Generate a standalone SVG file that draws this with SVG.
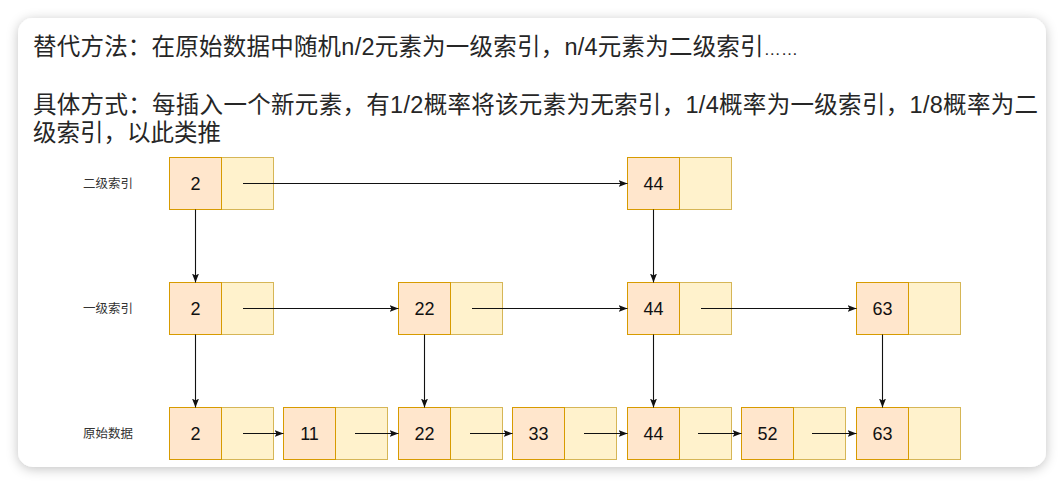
<svg xmlns="http://www.w3.org/2000/svg" width="1064" height="485" viewBox="0 0 1064 485">
  <style>
    .title { font-family: "Liberation Sans", "Noto Sans CJK SC", sans-serif; font-size: 23.5px; fill: #262626; }
    .dots { font-family: "Liberation Sans", sans-serif; font-size: 17px; }
    .row { font-family: "Noto Sans CJK SC", "Liberation Sans", sans-serif; font-size: 12.5px; fill: #333; }
    .num { font-family: "Liberation Sans", Arial, sans-serif; font-size: 18px; fill: #111; text-anchor: middle; }
    .key { fill: #ffe6cc; stroke: #d79b00; stroke-width: 1; }
    .ptr { fill: #fff2cc; stroke: #d6b656; stroke-width: 1; }
    .edge { fill: none; stroke: #111; stroke-width: 1.1; marker-end: url(#arr); }
  </style>
  <defs>
    <filter id="shadow" x="-5%" y="-10%" width="110%" height="120%">
      <feDropShadow dx="0" dy="2" stdDeviation="6" flood-color="#000" flood-opacity="0.24"/>
    </filter>
    <marker id="arr" markerUnits="userSpaceOnUse" markerWidth="10" markerHeight="8" refX="9" refY="3.5" orient="auto">
      <path d="M0,0 L9,3.5 L0,7 L2,3.5 Z" fill="#111"/>
    </marker>
  </defs>
  <rect width="1064" height="485" fill="#ffffff"/>
  <rect id="card" x="18" y="18" width="1028" height="449" rx="15" fill="#ffffff" filter="url(#shadow)"/>

  <g id="description">
    <text class="title" x="33" y="55" textLength="765" lengthAdjust="spacing">替代方法：在原始数据中随机n/2元素为一级索引，n/4元素为二级索引<tspan class="dots">……</tspan></text>
    <text class="title" x="33" y="113" textLength="1005" lengthAdjust="spacing">具体方式：每插入一个新元素，有1/2概率将该元素为无索引，1/4概率为一级索引，1/8概率为二</text>
    <text class="title" x="33" y="141">级索引，以此类推</text>
  </g>

  <g id="row-labels">
    <text class="row" x="83" y="187.5">二级索引</text>
    <text class="row" x="83" y="312.5">一级索引</text>
    <text class="row" x="83" y="437.5">原始数据</text>
  </g>

  <!-- level 2 -->
  <g id="l2-2"><rect class="ptr" x="221.5" y="157.5" width="52" height="52"/><rect class="key" x="169.5" y="157.5" width="52" height="52"/><text class="num" x="195.5" y="190">2</text></g>
  <g id="l2-44"><rect class="ptr" x="679.5" y="157.5" width="52" height="52"/><rect class="key" x="627.5" y="157.5" width="52" height="52"/><text class="num" x="653.5" y="190">44</text></g>

  <!-- level 1 -->
  <g id="l1-2"><rect class="ptr" x="221.5" y="282.5" width="52" height="52"/><rect class="key" x="169.5" y="282.5" width="52" height="52"/><text class="num" x="195.5" y="315">2</text></g>
  <g id="l1-22"><rect class="ptr" x="450.5" y="282.5" width="52" height="52"/><rect class="key" x="398.5" y="282.5" width="52" height="52"/><text class="num" x="424.5" y="315">22</text></g>
  <g id="l1-44"><rect class="ptr" x="679.5" y="282.5" width="52" height="52"/><rect class="key" x="627.5" y="282.5" width="52" height="52"/><text class="num" x="653.5" y="315">44</text></g>
  <g id="l1-63"><rect class="ptr" x="908.5" y="282.5" width="52" height="52"/><rect class="key" x="856.5" y="282.5" width="52" height="52"/><text class="num" x="882.5" y="315">63</text></g>

  <!-- raw data -->
  <g id="d-2"><rect class="ptr" x="221.5" y="407.5" width="52" height="52"/><rect class="key" x="169.5" y="407.5" width="52" height="52"/><text class="num" x="195.5" y="440">2</text></g>
  <g id="d-11"><rect class="ptr" x="335.5" y="407.5" width="52" height="52"/><rect class="key" x="283.5" y="407.5" width="52" height="52"/><text class="num" x="309.5" y="440">11</text></g>
  <g id="d-22"><rect class="ptr" x="450.5" y="407.5" width="52" height="52"/><rect class="key" x="398.5" y="407.5" width="52" height="52"/><text class="num" x="424.5" y="440">22</text></g>
  <g id="d-33"><rect class="ptr" x="564.5" y="407.5" width="52" height="52"/><rect class="key" x="512.5" y="407.5" width="52" height="52"/><text class="num" x="538.5" y="440">33</text></g>
  <g id="d-44"><rect class="ptr" x="679.5" y="407.5" width="52" height="52"/><rect class="key" x="627.5" y="407.5" width="52" height="52"/><text class="num" x="653.5" y="440">44</text></g>
  <g id="d-52"><rect class="ptr" x="793.5" y="407.5" width="52" height="52"/><rect class="key" x="741.5" y="407.5" width="52" height="52"/><text class="num" x="767.5" y="440">52</text></g>
  <g id="d-63"><rect class="ptr" x="908.5" y="407.5" width="52" height="52"/><rect class="key" x="856.5" y="407.5" width="52" height="52"/><text class="num" x="882.5" y="440">63</text></g>

  <g id="connectors">
    <path class="edge" d="M243,183.5 L627.5,183.5"/>
    <path class="edge" d="M243,308.5 L398.5,308.5"/>
    <path class="edge" d="M472,308.5 L627.5,308.5"/>
    <path class="edge" d="M701,308.5 L856.5,308.5"/>
    <path class="edge" d="M243,433.5 L283.5,433.5"/>
    <path class="edge" d="M355,433.5 L398.5,433.5"/>
    <path class="edge" d="M470,433.5 L512.5,433.5"/>
    <path class="edge" d="M584,433.5 L627.5,433.5"/>
    <path class="edge" d="M698,433.5 L741.5,433.5"/>
    <path class="edge" d="M812,433.5 L856.5,433.5"/>
    <path class="edge" d="M195.5,209.5 L195.5,282.5"/>
    <path class="edge" d="M653.5,209.5 L653.5,282.5"/>
    <path class="edge" d="M195.5,334.5 L195.5,407.5"/>
    <path class="edge" d="M424.5,334.5 L424.5,407.5"/>
    <path class="edge" d="M653.5,334.5 L653.5,407.5"/>
    <path class="edge" d="M882.5,334.5 L882.5,407.5"/>
  </g>
</svg>
